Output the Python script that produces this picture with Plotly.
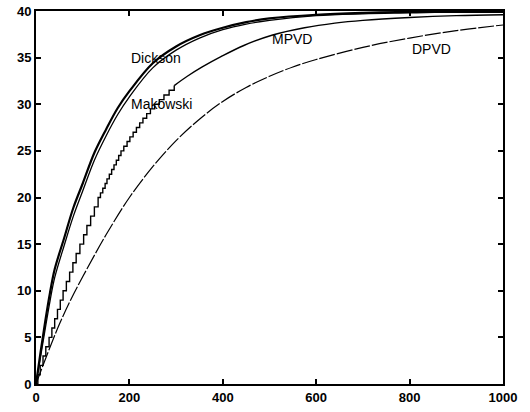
import plotly.graph_objects as go

# Dickson and Makowski curves
x_smooth = [0, 10, 20, 30, 40, 60, 80, 100, 125, 150, 175, 200, 250, 300, 350, 400,
            450, 500, 600, 700, 800, 900, 1000]
dickson = [0, 3.5, 6.8, 9.8, 12.3, 15.6, 18.9, 21.5, 24.8, 27.3, 29.6, 31.4, 34.4, 36.2,
           37.4, 38.2, 38.8, 39.2, 39.6, 39.8, 39.9, 39.9, 39.9]
makowski = [0, 3.0, 6.0, 8.9, 11.4, 14.8, 18.0, 20.7, 24.0, 26.6, 28.9, 30.8, 33.9, 35.8,
            37.1, 38.0, 38.6, 39.0, 39.5, 39.7, 39.8, 39.9, 39.9]

# MPVD: staircase part (x where each level is reached) and smooth tail
mpvd_step_x = [0, 4, 9, 15, 21, 28, 34, 40, 46, 52, 58, 65, 72, 79, 86, 94, 102, 109, 117,
               125, 133, 138, 143, 148, 152, 157, 162, 167, 172, 177, 182, 188, 195, 201,
               208, 215, 222, 229, 237, 245, 254, 264, 274, 285, 296]
mpvd_step_y = [0, 1, 2, 3, 4, 5, 6, 7, 8, 9, 10, 11, 12, 13, 14, 15, 16, 17, 18, 19, 20,
               20.5, 21, 21.5, 22, 22.5, 23, 23.5, 24, 24.5, 25, 25.5, 26, 26.5, 27, 27.5,
               28, 28.5, 29, 29.5, 30, 30.5, 31, 31.5, 32]
mpvd_tail_x = [296, 324, 356, 396, 445, 505, 575, 640, 700, 800, 900, 1000]
mpvd_tail_y = [32, 33, 34, 35.1, 36.3, 37.4, 38.2, 38.7, 39.0, 39.3, 39.5, 39.6]

# DPVD
dpvd_x = [0, 25, 50, 75, 100, 150, 200, 250, 300, 350, 400, 450, 500, 550, 600, 700,
          800, 900, 1000]
dpvd_y = [0, 3.3, 6.4, 9.1, 11.5, 16.0, 20.0, 23.3, 26.1, 28.4, 30.3, 31.8, 33.0, 34.0,
          34.8, 36.1, 37.1, 37.9, 38.5]

labels = ["Dickson", "Makowski", "MPVD", "DPVD"]
label_x = [200, 200, 500, 800]
label_y = [35, 30, 37, 35.9]

x_ticks = [0, 200, 400, 600, 800, 1000]
y_ticks = [0, 5, 10, 15, 20, 25, 30, 35, 40]

fig = go.Figure()
fig.add_trace(go.Scatter(x=x_smooth, y=dickson, mode="lines", line=dict(color="black", width=2.2, shape="spline")))
fig.add_trace(go.Scatter(x=x_smooth, y=makowski, mode="lines", line=dict(color="black", width=1.3, shape="spline")))
fig.add_trace(go.Scatter(x=mpvd_step_x, y=mpvd_step_y, mode="lines", line=dict(color="black", width=1.4, shape="hv")))
fig.add_trace(go.Scatter(x=mpvd_tail_x, y=mpvd_tail_y, mode="lines", line=dict(color="black", width=1.4, shape="spline")))
fig.add_trace(go.Scatter(x=dpvd_x, y=dpvd_y, mode="lines", line=dict(color="black", width=1.2, dash="16px,2px", shape="spline")))

for t, xx, yy in zip(labels, label_x, label_y):
    fig.add_annotation(x=xx, y=yy, text=t, showarrow=False, xanchor="left", yanchor="middle",
                       font=dict(family="Liberation Sans, Arial", size=14, color="black"))

axis_common = dict(showgrid=False, zeroline=False, showline=True, linecolor="black", linewidth=2,
                   mirror="ticks", ticks="inside", ticklen=5, tickwidth=1.5, tickcolor="black",
                   automargin=False,
                   tickfont=dict(family="Liberation Sans, Arial", size=13, color="black", weight="bold"))
fig.update_xaxes(range=[0, 1000], tickvals=x_ticks, ticktext=[str(v) for v in x_ticks], **axis_common)
fig.update_yaxes(range=[0, 40], tickvals=y_ticks, ticktext=[str(v) for v in y_ticks], **axis_common)

fig.update_layout(width=530, height=412, margin=dict(l=36, r=27, t=11, b=28),
                  paper_bgcolor="white", plot_bgcolor="white", showlegend=False)
fig.write_html("out.html")
